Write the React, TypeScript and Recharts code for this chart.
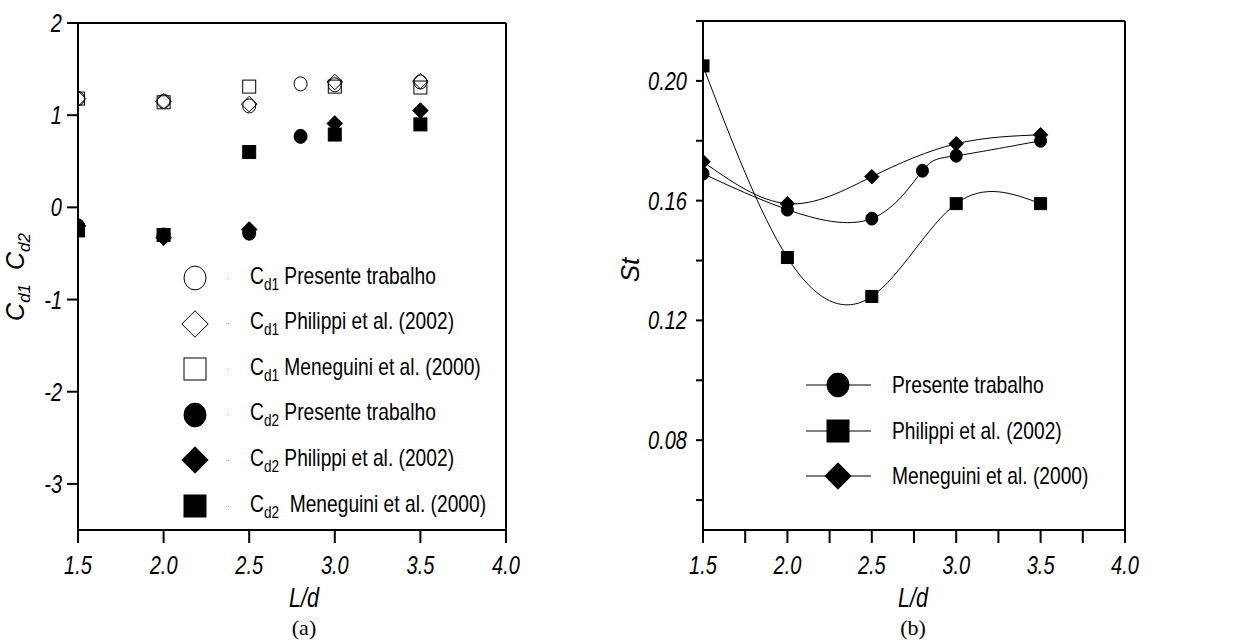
import React from "react";
import {
  ComposedChart,
  LineChart,
  Scatter,
  Line,
  XAxis,
  YAxis,
  ReferenceLine,
} from "recharts";

// L/d positions
const ldPresente = [1.5, 2.0, 2.5, 2.8, 3.0, 3.5];
const ldRefs = [1.5, 2.0, 2.5, 3.0, 3.5];
const ldCd2Presente = [1.5, 2.0, 2.5, 2.8];

// (a) drag coefficients
const cd1Presente = [1.18, 1.15, 1.1, 1.34, 1.33, 1.36];
const cd1Philippi = [1.18, 1.15, 1.12, 1.36, 1.37];
const cd1Meneguini = [1.18, 1.14, 1.31, 1.31, 1.3];
const cd2Presente = [-0.2, -0.3, -0.28, 0.77];
const cd2Philippi = [-0.2, -0.33, -0.24, 0.91, 1.05];
const cd2Meneguini = [-0.25, -0.3, 0.6, 0.79, 0.9];

// (b) Strouhal
const stPresente = [0.169, 0.157, 0.154, 0.17, 0.175, 0.18];
const stPhilippi = [0.205, 0.141, 0.128, 0.159, 0.159];
const stMeneguini = [0.173, 0.159, 0.168, 0.179, 0.182];

const leftXTicks = [1.5, 2.0, 2.5, 3.0, 3.5, 4.0];
const leftYTicks = [-3, -2, -1, 0, 1, 2];
const rightXTicks = [1.5, 1.75, 2.0, 2.25, 2.5, 2.75, 3.0, 3.25, 3.5, 3.75, 4.0];
const rightYTicks = [0.06, 0.08, 0.1, 0.12, 0.14, 0.16, 0.18, 0.2, 0.22];

const FONT = "'Liberation Sans', Arial, sans-serif";
const NARROW = 0.8; // the figure uses a condensed sans

const pts = (xs: number[], ys: number[]) => ys.map((y, i) => ({ x: xs[i], y }));

type Kind = "circle" | "square" | "diamond";

function Mark({ cx, cy, kind, filled, size }: { cx: number; cy: number; kind: Kind; filled: boolean; size: number }) {
  const fill = filled ? "#000" : "none";
  const h = size / 2;
  if (kind === "circle") return <ellipse cx={cx} cy={cy} rx={h} ry={h * 1.08} fill={fill} stroke="#000" strokeWidth={1} />;
  if (kind === "square") return <rect x={cx - h} y={cy - h} width={size} height={size} fill={fill} stroke="#000" strokeWidth={1} />;
  const d = h * 1.2;
  return (
    <polygon
      points={`${cx},${cy - d} ${cx + d},${cy} ${cx},${cy + d} ${cx - d},${cy}`}
      fill={fill}
      stroke="#000"
      strokeWidth={1}
    />
  );
}

const axisLine = { stroke: "#000", strokeWidth: 2 };

const xTick = (fmt: (v: number) => string) => (p: any) => (
  <text
    transform={`translate(${p.x},${p.y + 29}) scale(${NARROW},1)`}
    textAnchor="middle"
    fontSize={25}
    fontStyle="italic"
    fontFamily={FONT}
    fill="#000"
  >
    {fmt(p.payload.value)}
  </text>
);

const yTick = (fmt: (v: number) => string, gap: number) => (p: any) => (
  <text
    transform={`translate(${p.x - gap},${p.y + 9}) scale(${NARROW},1)`}
    textAnchor="end"
    fontSize={25}
    fontStyle="italic"
    fontFamily={FONT}
    fill="#000"
  >
    {fmt(p.payload.value)}
  </text>
);

const leftSeries: { name: string; sub: string; xs: number[]; ys: number[]; kind: Kind; filled: boolean }[] = [
  { name: "Presente trabalho", sub: "d1", xs: ldPresente, ys: cd1Presente, kind: "circle", filled: false },
  { name: "Philippi et al. (2002)", sub: "d1", xs: ldRefs, ys: cd1Philippi, kind: "diamond", filled: false },
  { name: "Meneguini et al. (2000)", sub: "d1", xs: ldRefs, ys: cd1Meneguini, kind: "square", filled: false },
  { name: "Presente trabalho", sub: "d2", xs: ldCd2Presente, ys: cd2Presente, kind: "circle", filled: true },
  { name: "Philippi et al. (2002)", sub: "d2", xs: ldRefs, ys: cd2Philippi, kind: "diamond", filled: true },
  { name: " Meneguini et al. (2000)", sub: "d2", xs: ldRefs, ys: cd2Meneguini, kind: "square", filled: true },
];

const rightSeries: { name: string; xs: number[]; ys: number[]; kind: Kind }[] = [
  { name: "Presente trabalho", xs: ldPresente, ys: stPresente, kind: "circle" },
  { name: "Philippi et al. (2002)", xs: ldRefs, ys: stPhilippi, kind: "square" },
  { name: "Meneguini et al. (2000)", xs: ldRefs, ys: stMeneguini, kind: "diamond" },
];

const abs = (left: number, top: number): React.CSSProperties => ({ position: "absolute", left, top });
const narrowText: React.CSSProperties = {
  display: "inline-block",
  transform: `scaleX(${NARROW})`,
  transformOrigin: "left center",
  whiteSpace: "pre",
  color: "#000",
};

export default function App() {
  return (
    <div style={{ position: "relative", width: 1252, height: 641, background: "#fff", fontFamily: FONT }}>
      <style>{`body{margin:0}`}</style>

      {/* (a) */}
      <div style={abs(0, 0)}>
        <ComposedChart width={620} height={641} margin={{ top: 23, right: 114, bottom: 51, left: 18 }}>
          <XAxis
            type="number"
            dataKey="x"
            domain={[1.5, 4]}
            ticks={leftXTicks}
            tick={xTick((v) => v.toFixed(1))}
            tickSize={13}
            tickLine={axisLine}
            axisLine={axisLine}
            height={60}
            allowDataOverflow
          />
          <YAxis
            type="number"
            dataKey="y"
            domain={[-3.5, 2]}
            ticks={leftYTicks}
            tick={yTick((v) => String(v), 3)}
            tickSize={11}
            tickLine={axisLine}
            axisLine={axisLine}
            width={60}
            allowDataOverflow
          />
          <ReferenceLine y={2} stroke="#000" strokeWidth={2} />
          <ReferenceLine x={4} stroke="#000" strokeWidth={2} />
          {leftSeries.map((s, i) => (
            <Scatter
              key={i}
              name={`C${s.sub} ${s.name}`}
              data={pts(s.xs, s.ys)}
              isAnimationActive={false}
              shape={(p: any) => <Mark cx={p.cx} cy={p.cy} kind={s.kind} filled={s.filled} size={13} />}
            />
          ))}
        </ComposedChart>
        <div
          style={{
            ...abs(18, 277),
            transform: "translate(-50%, -50%) rotate(-90deg)",
            fontSize: 25,
            fontStyle: "italic",
            whiteSpace: "nowrap",
          }}
        >
          C<sub style={{ fontSize: 17 }}>d1</sub>&nbsp;&nbsp;C<sub style={{ fontSize: 17 }}>d2</sub>
        </div>
        {leftSeries.map((s, i) => (
          <div key={i} style={{ ...abs(183, 265 + i * 45.6), display: "flex", alignItems: "center", height: 26 }}>
            <svg width={26} height={26} style={{ overflow: "visible" }}>
              <Mark cx={12} cy={13} kind={s.kind} filled={s.filled} size={22} />
            </svg>
            <span style={{ width: 1, height: 1, background: "#999", marginLeft: 19 }} />
            <span style={{ marginLeft: 21, fontSize: 24, ...narrowText }}>
              C<sub style={{ fontSize: 17 }}>{s.sub}</sub>
              {" " + s.name}
            </span>
          </div>
        ))}
        <div style={{ ...abs(304, 598), transform: `translate(-50%,-50%) scaleX(${NARROW})`, fontSize: 27, fontStyle: "italic" }}>
          L/d
        </div>
        <div
          style={{
            ...abs(304, 628),
            transform: "translate(-50%,-50%)",
            fontSize: 22,
            fontFamily: "'Liberation Serif', 'Times New Roman', serif",
          }}
        >
          (a)
        </div>
      </div>

      {/* (b) */}
      <div style={abs(620, 0)}>
        <LineChart width={632} height={641} margin={{ top: 21, right: 127, bottom: 51, left: 8 }}>
          <XAxis
            type="number"
            dataKey="x"
            domain={[1.5, 4]}
            ticks={rightXTicks}
            tick={xTick((v) => (Number.isInteger(v * 2) ? v.toFixed(1) : ""))}
            tickSize={13}
            tickLine={axisLine}
            axisLine={axisLine}
            height={60}
            allowDataOverflow
          />
          <YAxis
            type="number"
            dataKey="y"
            domain={[0.05, 0.22]}
            ticks={rightYTicks}
            tick={yTick((v) => (Math.round(v * 100) % 4 === 0 ? v.toFixed(2) : ""), 7)}
            tickSize={7}
            tickLine={axisLine}
            axisLine={axisLine}
            width={75}
            allowDataOverflow
          />
          <ReferenceLine y={0.22} stroke="#000" strokeWidth={2} />
          <ReferenceLine x={4} stroke="#000" strokeWidth={2} />
          {rightSeries.map((s, i) => (
            <Line
              key={i}
              name={s.name}
              data={pts(s.xs, s.ys)}
              dataKey="y"
              type="natural"
              stroke="#000"
              strokeWidth={1}
              isAnimationActive={false}
              dot={(p: any) => <Mark key={`d${i}-${p.index}`} cx={p.cx} cy={p.cy} kind={s.kind} filled size={12} />}
              activeDot={false}
            />
          ))}
        </LineChart>
        <div
          style={{
            ...abs(10, 270),
            transform: "translate(-50%, -50%) rotate(-90deg)",
            fontSize: 26,
            fontStyle: "italic",
          }}
        >
          St
        </div>
        {rightSeries.map((s, i) => (
          <div key={i} style={{ ...abs(186, 372 + i * 45.5), display: "flex", alignItems: "center", height: 26 }}>
            <svg width={66} height={26} style={{ overflow: "visible" }}>
              <line x1={0} y1={13} x2={65} y2={13} stroke="#000" strokeWidth={1} />
              <Mark cx={32} cy={13} kind={s.kind} filled size={22} />
            </svg>
            <span style={{ marginLeft: 20, fontSize: 24, ...narrowText }}>{s.name}</span>
          </div>
        ))}
        <div style={{ ...abs(293, 598), transform: `translate(-50%,-50%) scaleX(${NARROW})`, fontSize: 27, fontStyle: "italic" }}>
          L/d
        </div>
        <div
          style={{
            ...abs(293, 628),
            transform: "translate(-50%,-50%)",
            fontSize: 22,
            fontFamily: "'Liberation Serif', 'Times New Roman', serif",
          }}
        >
          (b)
        </div>
      </div>
    </div>
  );
}
